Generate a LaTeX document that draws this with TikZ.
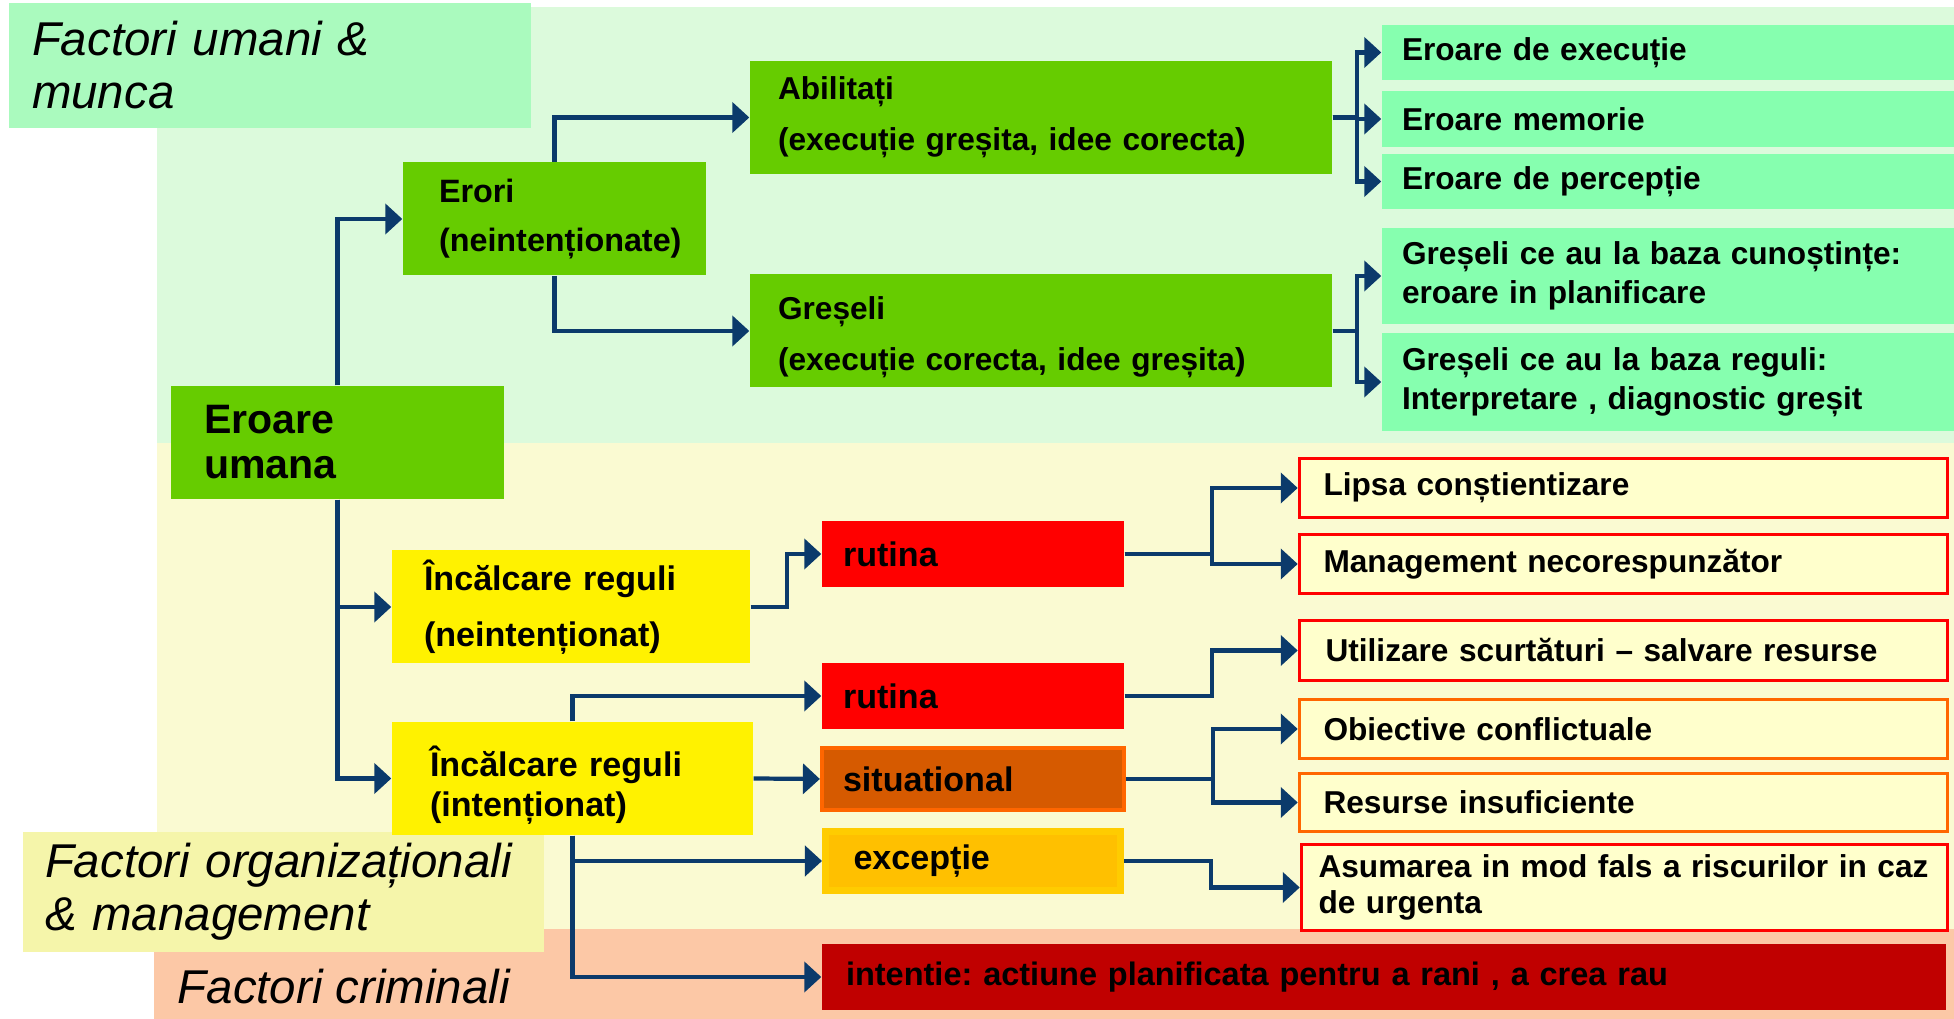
\documentclass[tikz,border=0pt]{standalone}
\usepackage{fontspec}
\setmainfont{Liberation Sans}
\usetikzlibrary{arrows.meta}
\frenchspacing

\definecolor{greenbox}{HTML}{66CC00}
\definecolor{mintbox}{HTML}{86FFAF}
\definecolor{bgumani}{HTML}{DCFADC}
\definecolor{bgorg}{HTML}{FAFAD2}
\definecolor{bgcrim}{HTML}{FCC8A6}
\definecolor{lblumani}{HTML}{AAFABE}
\definecolor{lblorg}{HTML}{F5F5AA}
\definecolor{navyline}{HTML}{0B3A6B}
\definecolor{sitfill}{HTML}{D65A00}
\definecolor{sitedge}{HTML}{FF6600}
\definecolor{excfill}{HTML}{FFC000}
\definecolor{excedge}{HTML}{FFCC00}
\definecolor{intfill}{HTML}{C00000}
\definecolor{notefill}{HTML}{FFFFCC}

\tikzset{
  box/.style={inner ysep=0pt, align=left, font=\bfseries\fontsize{9}{11}\selectfont},
  gbox/.style={box, fill=greenbox, minimum height=11.3mm},
  mbox/.style={box, fill=mintbox, minimum width=57.2mm, inner xsep=2mm, text width=53.2mm},
  ybox/.style={box, fill=yellow, minimum height=11.3mm, font=\bfseries\fontsize{9.7}{11.5}\selectfont},
  cbox/.style={box, minimum width=30.2mm, minimum height=6.6mm, inner xsep=2.1mm, text width=26mm, font=\bfseries\fontsize{9.7}{11.5}\selectfont},
  nbox/.style={box, fill=notefill, line width=1pt, minimum width=64.8mm, inner xsep=2.4mm, text width=60mm},
  factor/.style={inner ysep=0pt, align=left, font=\itshape\fontsize{13.5}{15.1}\selectfont},
  link/.style={->, draw=navyline, line width=1.2pt},
}

\begin{document}
\begin{tikzpicture}[x=0.1mm,y=-0.1mm,>={Triangle[length=1.7mm,width=3mm]}]
    \useasboundingbox (0,0) rectangle (1954,1019);
    %bands
    \fill[bgumani] (157,7) rectangle (1954,443);
    \fill[bgorg] (157,443) rectangle (1954,929);
    \fill[bgcrim] (154,929) rectangle (1954,1019);

    %factor labels
    \node (umani) at (270,65.5) [factor,fill=lblumani,minimum width=52.2mm,minimum height=12.5mm,inner xsep=2.3mm,text width=47.6mm]{Factori umani \&\\munca};
    \node (org) at (283.5,892) [factor,fill=lblorg,minimum width=52.1mm,minimum height=12mm,inner xsep=2.2mm,text width=47.7mm]{Factori organizaționali\\\& management};
    \node (crim) at (177,987) [factor,anchor=west,inner xsep=0pt]{Factori criminali};

    %unintended errors
    \node (eu) at (337.5,442.5) [gbox,minimum width=33.3mm,inner xsep=3.3mm,text width=26.7mm,font=\bfseries\fontsize{11.7}{12.8}\selectfont]{Eroare\\umana};
    \node (erori) at (554.5,219) [gbox,minimum width=30.3mm,inner xsep=3.6mm,text width=23.1mm,font=\bfseries\fontsize{9.2}{11}\selectfont]{Erori\\[3.2pt](neintenționate)};
    \node (abil) at (1041,117.5) [gbox,minimum width=58.2mm,inner xsep=2.8mm,text width=52.6mm]{Abilitați\\[3.6pt](execuție greșita, idee corecta)};
    \node (gres) at (1041,331) [gbox,minimum width=58.2mm,inner xsep=2.8mm,text width=52.6mm]{\rule{0pt}{10pt}Greșeli\\[3.6pt](execuție corecta, idee greșita)};

    \node (exec) at (1668,52.5) [mbox,minimum height=5.5mm]{Eroare de execuție};
    \node (mem) at (1668,119) [mbox,minimum height=5.6mm]{Eroare memorie};
    \node (perc) at (1668,181.5) [mbox,minimum height=5.5mm]{Eroare de percepție};
    \node (cun) at (1668,276) [mbox,minimum height=9.6mm]{Greșeli ce au la baza cunoștințe:\\eroare in planificare};
    \node (reg) at (1668,382) [mbox,minimum height=9.8mm]{Greșeli ce au la baza reguli:\\Interpretare , diagnostic greșit};

    %rule violations
    \node (irn) at (571,607) [ybox,minimum width=35.8mm,inner xsep=3.2mm,text width=29.4mm]{Încălcare reguli\\[4.5pt](neintenționat)};
    \node (iri) at (572.5,778.5) [ybox,minimum width=36.1mm,inner xsep=3.8mm,text width=28.5mm]{\rule{0pt}{12.5pt}Încălcare reguli\\(intenționat)};

    \node (rut1) at (973,554) [cbox,fill=red]{rutina};
    \node (rut2) at (973,696) [cbox,fill=red]{rutina};
    \node (sit) at (973,779) [cbox,fill=sitfill,draw=sitedge,line width=1.2pt,minimum width=29.8mm,minimum height=6.2mm]{situational};
    \node (exc) at (973,861) [cbox,fill=excfill,draw=excedge,line width=2pt,minimum width=29.5mm,minimum height=5.9mm,inner xsep=2.8mm,text width=23.9mm]{excepție};
    \node (int) at (1384,977) [cbox,fill=intfill,minimum width=112.4mm,inner xsep=2.4mm,text width=107.6mm,font=\bfseries\fontsize{9.25}{11}\selectfont]{intentie: actiune planificata pentru a rani , a crea rau};

    \node (lips) at (1623.5,488) [nbox,draw=red,minimum height=5.9mm]{Lipsa conștientizare};
    \node (mgmt) at (1623.5,564) [nbox,draw=red,minimum height=5.9mm]{Management necorespunzător};
    \node (util) at (1623.5,650.5) [nbox,draw=red,minimum height=6mm,inner xsep=2.6mm,text width=59.6mm]{Utilizare scurtături -- salvare resurse};
    \node (obi) at (1623.5,729) [nbox,draw=sitedge,minimum height=5.9mm]{Obiective conflictuale};
    \node (res) at (1623.5,802.5) [nbox,draw=sitedge,minimum height=5.8mm]{Resurse insuficiente};
    \node (asum) at (1624.5,887.5) [nbox,draw=red,minimum width=64.6mm,minimum height=8.6mm,inner xsep=1.7mm,text width=61.2mm,font=\bfseries\fontsize{9}{10.2}\selectfont]{Asumarea in mod fals a riscurilor in caz\\de urgenta};

    %links
    \draw [link] (eu.north) |- (erori.west);
    \draw [link] (erori.north) |- (abil.west);
    \draw [link] (erori.south) |- (gres.west);
    \draw [link] (abil.east) -- ++(24,0) |- (exec.west);
    \draw [link] (abil.east) -- ++(24,0) |- (mem.west);
    \draw [link] (abil.east) -- ++(24,0) |- (perc.west);
    \draw [link] (gres.east) -- ++(24,0) |- (cun.west);
    \draw [link] (gres.east) -- ++(24,0) |- (reg.west);

    \draw [link] (eu.south) |- (irn.west);
    \draw [link] (eu.south) |- (iri.west);
    \draw [link] (irn.east) -- ++(36,0) |- (rut1.west);
    \draw [link] (iri.north) |- (rut2.west);
    \draw [link] (iri.east) -- (sit.west);
    \draw [link] (iri.south) |- (exc.west);
    \draw [link] (iri.south) |- (int.west);

    \draw [link] (rut1.east) -- ++(87,0) |- (lips.west);
    \draw [link] (rut1.east) -- ++(87,0) |- (mgmt.west);
    \draw [link] (rut2.east) -- ++(87,0) |- (util.west);
    \draw [link] (sit.east) -- ++(87,0) |- (obi.west);
    \draw [link] (sit.east) -- ++(87,0) |- (res.west);
    \draw [link] (exc.east) -- ++(87,0) |- (asum.west);
\end{tikzpicture}
\end{document}
